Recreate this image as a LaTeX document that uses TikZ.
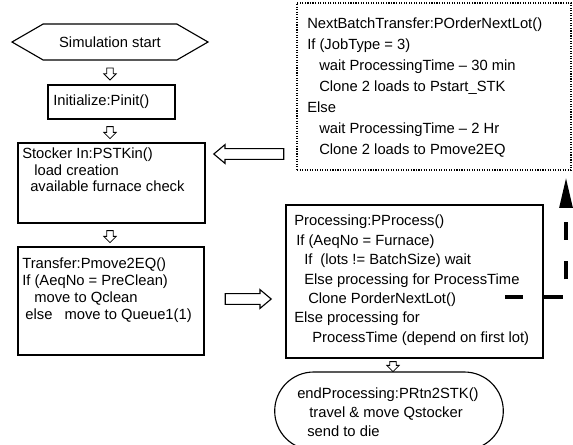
\documentclass[tikz,border=0pt]{standalone}
\usepackage{fontspec}
\setmainfont{Liberation Sans}
\usetikzlibrary{shapes.symbols,shapes.arrows,shapes.misc,arrows.meta}

\begin{document}
\begin{tikzpicture}[shorten >=1pt,
    box/.style={draw, line width=0.8pt, inner sep=0pt},
    txt/.style={align=left, anchor=north west, inner sep=0pt, font=\fontsize{10.5}{#1}\selectfont},
    txt/.default=12pt,
    downarrow/.style={draw, line width=0.6pt, single arrow, single arrow head extend=0.075cm,
        single arrow tip angle=90, single arrow head indent=0pt, inner sep=0.07cm,
        minimum height=0.3cm, rotate=-90},
    bigarrow/.style={draw, line width=0.8pt, single arrow, single arrow head extend=0.1cm,
        single arrow tip angle=80, single arrow head indent=0pt, inner sep=0.12cm},
    feedback/.style={line width=2.2pt, dash pattern=on 13pt off 15pt,
        -{Triangle[length=0.75cm,width=0.32cm]}, shorten >=0.18cm}]

        \useasboundingbox (0,0) rectangle (14.325,-11.1);

        % Left column
        \node[draw, line width=0.8pt, signal, signal to=west and east, signal pointer angle=60,
              minimum width=4.9cm, minimum height=0.9cm, font=\fontsize{10.5}{12}\selectfont]
              (start) at (2.75,-1.05) {Simulation start};
        \node[box, minimum width=3.175cm, minimum height=0.85cm] (init) at (2.7875,-2.55) {};
        \node[txt, anchor=west] (init-txt) at (1.325,-2.55) {Initialize:Pinit()};
        \node[box, minimum width=4.675cm, minimum height=2cm] (stocker) at (2.7875,-4.575) {};
        \node[txt=11.7pt] (stocker-txt) at (0.55,-3.7)
            {Stocker In:PSTKin()\\ \hspace{0.3cm}load creation\\ \hspace{0.2cm}available furnace check};
        \node[box, minimum width=4.65cm, minimum height=2.7cm] (transfer) at (2.775,-7.525) {};
        \node[txt=11.9pt] (transfer-txt) at (0.55,-6.45)
            {Transfer:Pmove2EQ()\\ If (AeqNo = PreClean)\\ \hspace{0.3cm}move to Qclean\\
             \hspace{0.08cm}else\hspace{0.3cm}move to Queue1(1)};

        % Right column
        \node[box, densely dotted, minimum width=6.85cm, minimum height=4.175cm] (nextbatch) at (10.85,-2.1625) {};
        \node[txt=14.9pt] (nextbatch-txt) at (7.675,-0.45)
            {NextBatchTransfer:POrderNextLot()\\ If (JobType = 3)\\
             \hspace{0.3cm}wait ProcessingTime -- 30 min\\ \hspace{0.3cm}Clone 2 loads to Pstart\_STK\\
             Else\\ \hspace{0.3cm}wait ProcessingTime -- 2 Hr\\ \hspace{0.3cm}Clone 2 loads to Pmove2EQ};
        \node[box, minimum width=6.425cm, minimum height=3.825cm] (proc) at (10.3625,-7.0375) {};
        \node[txt=13.8pt] (proc-txt) at (7.35,-5.375)
            {Processing:PProcess()\\ \hspace{0.05cm}If (AeqNo = Furnace)\\
             \hspace{0.25cm}If\hspace{0.2cm}(lots != BatchSize) wait\\
             \hspace{0.25cm}Else processing for ProcessTime\\ \hspace{0.35cm}Clone PorderNextLot()\\
             Else processing for\\ \hspace{0.45cm}ProcessTime (depend on first lot)};
        \node[draw, line width=0.8pt, rounded rectangle, minimum width=5.95cm, minimum height=1.95cm]
              (endp) at (9.725,-10.275) {};
        \node[txt=13.5pt] (endp-txt) at (7.425,-9.7)
            {endProcessing:PRtn2STK()\\ \hspace{0.3cm}travel \& move Qstocker\\ \hspace{0.25cm}send to die};

        % Hollow arrows
        \node[downarrow] (d-start) at (2.75,-1.81) {};
        \node[downarrow] (d-init) at (2.75,-3.275) {};
        \node[downarrow] (d-stocker) at (2.75,-5.875) {};
        \node[downarrow, minimum height=0.25cm] (d-proc) at (9.825,-9.125) {};
        \node[bigarrow, minimum height=1.15cm] (to-proc) at (6.125,-7.475) {};
        \node[bigarrow, minimum height=1.75cm, rotate=180] (to-stocker) at (6.3,-3.85) {};

        % Clone back to the next batch
        \coordinate (clone-out) at (12.625,-7.425);
        \coordinate (clone-bend) at (14.15,-7.425);
        \draw[feedback] (clone-out) -- (clone-bend) -- (clone-bend |- nextbatch.south);

    \end{tikzpicture}
\end{document}
